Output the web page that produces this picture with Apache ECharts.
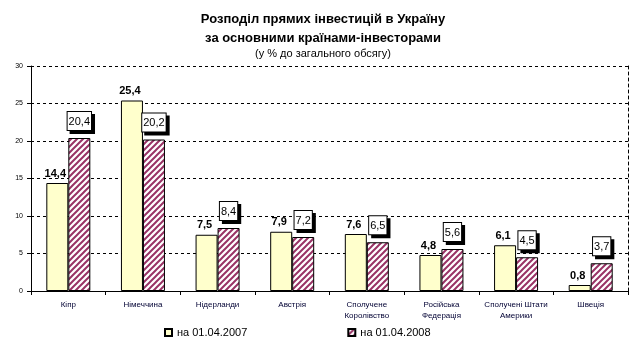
<!DOCTYPE html>
<html><head><meta charset="utf-8">
<script src="https://cdn.jsdelivr.net/npm/echarts@6/dist/echarts.min.js"></script>
<style>html,body{margin:0;padding:0;background:#fff}#c{width:637px;height:355px}</style>
</head><body><div id="c"></div>
<script>
const categories = ['Кіпр','Німеччина','Нідерланди','Австрія','Сполучене\nКоролівство','Російська\nФедерація','Сполучені Штати\nАмерики','Швеція'];
const series2007 = [14.4, 25.4, 7.5, 7.9, 7.6, 4.8, 6.1, 0.8];
const series2008 = [20.4, 20.2, 8.4, 7.2, 6.5, 5.6, 4.5, 3.7];
const seriesNames = ['на 01.04.2007', 'на 01.04.2008'];
const yTicks = {min: 0, max: 30, interval: 5};

function hatch() {
  const c = document.createElement('canvas');
  c.width = 6; c.height = 6;
  const g = c.getContext('2d');
  g.fillStyle = '#fff'; g.fillRect(0,0,6,6);
  g.strokeStyle = '#993366'; g.lineWidth = 2;
  g.beginPath();
  g.moveTo(-1, 7); g.lineTo(7, -1);
  g.moveTo(-4, 4); g.lineTo(4, -4);
  g.moveTo(2, 10); g.lineTo(10, 2);
  g.stroke();
  return c;
}
const fmt = p => String(p.value).replace('.', ',');
const chart = echarts.init(document.getElementById('c'), null, {renderer: 'canvas'});
chart.setOption({
  animation: false,
  textStyle: {fontFamily: 'Liberation Sans, Arial, sans-serif'},
  title: [
    {text: 'Розподіл прямих інвестицій в Україну\nза основними країнами-інвесторами', left: 318, textAlign: 'center', top: 5,
     textStyle: {fontSize: 13, fontWeight: 'bold', color: '#000', lineHeight: 19}},
    {text: '(у % до загального обсягу)', left: 318, textAlign: 'center', top: 43,
     textStyle: {fontSize: 11, fontWeight: 'normal', color: '#000'}}
  ],
  legend: {
    bottom: 12, left: 159, itemGap: 100, itemWidth: 7, itemHeight: 7,
    textStyle: {fontSize: 11, color: '#000'},
    data: seriesNames.map(n => ({name: n, icon: 'rect'}))
  },
  grid: {left: 31, right: 9, top: 66, bottom: 64},
  xAxis: {
    type: 'category', data: categories,
    axisLine: {lineStyle: {color: '#000', width: 1}},
    axisTick: {show: true, length: 4, lineStyle: {color: '#000'}},
    axisLabel: {fontSize: 8, color: '#000033', lineHeight: 11, margin: 8, interval: 0}
  },
  yAxis: [{
    type: 'value', min: yTicks.min, max: yTicks.max, interval: yTicks.interval,
    axisLine: {show: true, lineStyle: {color: '#000'}},
    axisTick: {show: true, length: 4, lineStyle: {color: '#000'}},
    axisLabel: {fontSize: 7, color: '#000', margin: 8},
    splitLine: {lineStyle: {color: '#000', type: [3, 3], width: 1}}
  }, {
    type: 'value', position: 'right', min: yTicks.min, max: yTicks.max, interval: yTicks.interval,
    axisLine: {show: true, lineStyle: {color: '#000', type: [3, 3]}},
    axisTick: {show: false}, axisLabel: {show: false}, splitLine: {show: false}
  }],
  series: [{
    name: seriesNames[0], type: 'bar', data: series2007, barWidth: 22, barGap: '0%',
    itemStyle: {color: '#FFFFCC', borderColor: '#000', borderWidth: 1},
    label: {show: true, position: 'top', distance: 4, offset: [-2, 0], formatter: fmt, fontSize: 11, fontWeight: 'bold', color: '#000'}
  }, {
    name: seriesNames[1], type: 'bar', data: series2008, barWidth: 22,
    itemStyle: {color: {image: hatch(), repeat: 'repeat'}, borderColor: '#000', borderWidth: 1},
    label: {show: true, position: 'top', distance: 8, offset: [0, 0], formatter: fmt, fontSize: 11, color: '#000',
      backgroundColor: '#fff', borderColor: '#000', borderWidth: 1, padding: [4, 1, 3, 1],
      shadowColor: '#000', shadowOffsetX: 3, shadowOffsetY: 3, shadowBlur: 0}
  }]
});
</script></body></html>
